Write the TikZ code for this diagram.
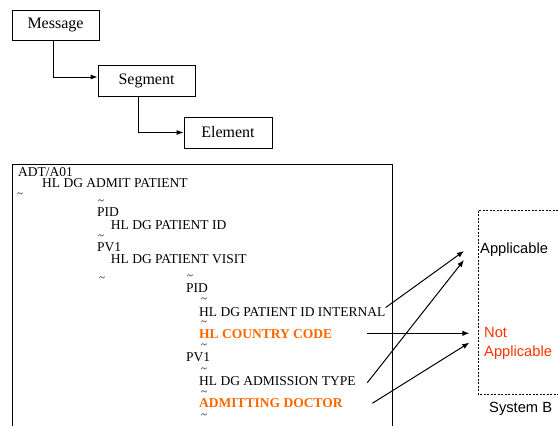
\documentclass[tikz,border=0pt]{standalone}
\usepackage{fontspec}
\setmainfont{Liberation Serif}
\setsansfont{Liberation Sans}
\usetikzlibrary{arrows.meta}
\definecolor{hlorange}{RGB}{255,102,0}
\definecolor{nared}{RGB}{255,51,0}
\tikzset{level/.style={draw,line width=.8pt,minimum height=30pt,inner sep=0pt,font=\fontsize{16}{18}\selectfont},
  field/.style={anchor=base west,inner sep=0pt,font=\fontsize{13.5}{14}\selectfont},
  hot/.style={field,text=hlorange,font=\fontsize{13.5}{14}\selectfont\bfseries},
  tildemark/.style={anchor=base west,inner sep=0pt,font=\fontsize{11}{12}\selectfont},
  sys/.style={anchor=base west,inner sep=0pt,font=\sffamily\fontsize{14.7}{16}\selectfont},
  link/.style={-{Latex[length=7pt,width=5pt]},line width=.9pt},
  arrow/.style={-{Latex[length=7pt,width=5.5pt]},line width=1pt}}

\begin{document}
\begin{tikzpicture}[x=1pt,y=-1pt]
  \path[use as bounding box] (0,0) rectangle (558,426);
  \node[level,minimum width=87pt] (msg) at (55.5,25) {Message};
  \node[level,minimum width=97pt,minimum height=31pt] (sgm) at (146.5,80.5) {Segment};
  \node[level,minimum width=88pt,minimum height=31pt] (elm) at (228,132.5) {Element};
  \draw[link] ([xshift=-2.5pt]msg.south) |- ([yshift=3.5pt]sgm.west);
  \draw[link] ([xshift=-8.5pt]sgm.south) |- (elm.west);
  % message frame and system B
  \draw[line width=.8pt] (12,430) |- (392,164) -- (392,430);
  \draw[line width=.9pt,dash pattern=on 2pt off 1.5pt] (565,210) -| (478,394) -- (565,394);
  \node[field] (adt) at (18,176) {ADT/A01};
  \node[field] (adm) at (42,187) {HL DG ADMIT PATIENT};
  \node[field] (pid) at (97,216.7) {PID};
  \node[field] (pidn) at (110.7,229) {HL DG PATIENT ID};
  \node[field] (pv) at (97,251.7) {PV1};
  \node[field] (pvn) at (110.7,263.3) {HL DG PATIENT VISIT};
  \node[field] (pidb) at (186,292.7) {PID};
  \node[field] (idint) at (199,316.7) {HL DG PATIENT ID INTERNAL};
  \node[hot] (cc) at (199,338.3) {HL COUNTRY CODE};
  \node[field] (pvb) at (186,361.7) {PV1};
  \node[field] (admt) at (199,385) {HL DG ADMISSION TYPE};
  \node[hot] (doc) at (199,407.7) {ADMITTING DOCTOR};
  \foreach \x/\y [count=\i] in {17/195,98/201.7,98/236.7,99/279,187/277,201/300,
    201/322.7,201/346,201/370,201/392.7,201/416}{
    \node[tildemark] (tl\i) at (\x,\y+2.8) {\textasciitilde};
  }
  \node[sys] (app) at (480,253.3) {Applicable};
  \node[sys,text=nared] (nap) at (484,337.7) {Not};
  \node[sys,text=nared] (napb) at (484,356) {Applicable};
  \node[sys] (sysb) at (489,412.7) {System B};
  \coordinate (inA) at (464,251);
  \coordinate (inB) at (464,260);
  \coordinate (inC) at (469.3,333.3);
  \coordinate (inD) at (469.3,342.7);
  \coordinate (outC) at (366.7,333.3);
  \coordinate (outT) at (367.3,382.7);
  \coordinate (outD) at (372.3,403.3);
  \draw[arrow] (idint.north east) -- (inA);
  \draw[arrow] (outC) -- (inC);
  \draw[arrow] (outT) -- (inB);
  \draw[arrow] (outD) -- (inD);
\end{tikzpicture}
\end{document}
